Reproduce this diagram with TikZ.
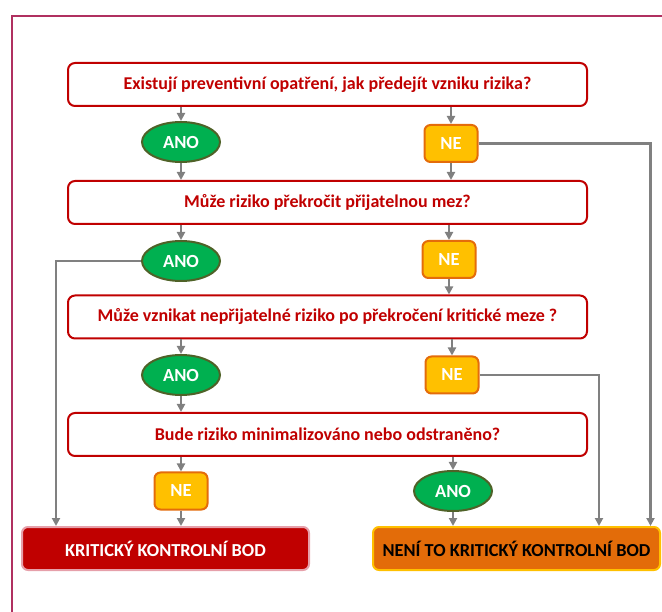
\documentclass[tikz,border=0pt]{standalone}
\usepackage{fontspec}
\setmainfont{Carlito}
\usetikzlibrary{shapes.geometric, arrows.meta, positioning, calc}

\definecolor{ramcol}{RGB}{176,48,96}
\definecolor{otazkacol}{RGB}{192,0,0}
\definecolor{anocol}{RGB}{0,176,80}
\definecolor{anookraj}{RGB}{79,98,40}
\definecolor{necol}{RGB}{255,192,0}
\definecolor{neokraj}{RGB}{228,108,10}
\definecolor{kbodcol}{RGB}{192,0,0}
\definecolor{kbodokraj}{RGB}{230,160,170}
\definecolor{nenicol}{RGB}{227,108,9}
\definecolor{sipkacol}{RGB}{128,128,128}

\begin{document}
\begin{tikzpicture}[
    x=1pt, y=-1pt,
    >={Triangle[length=8pt,width=8pt]},
    % Styl pro otazky (bile obdelniky s cervenym okrajem)
    qbox/.style={
        draw=otazkacol,
        line width=2pt,
        rounded corners=7pt,
        fill=white,
        minimum width=519pt,
        minimum height=43pt,
        text=otazkacol,
        font=\fontsize{18}{21}\selectfont\bfseries
    },
    % Styl pro odpoved ANO (zelena elipsa)
    anobox/.style={
        ellipse,
        draw=anookraj,
        line width=2pt,
        fill=anocol,
        minimum width=78pt,
        minimum height=40pt,
        inner sep=0pt,
        text=white,
        font=\fontsize{18.5}{21}\selectfont\bfseries
    },
    % Styl pro odpoved NE (zluty ctverec)
    nebox/.style={
        draw=neokraj,
        line width=2pt,
        rounded corners=6pt,
        fill=necol,
        minimum width=53pt,
        minimum height=37pt,
        inner sep=0pt,
        text=white,
        font=\fontsize{18.5}{21}\selectfont\bfseries
    },
    % Styl pro vysledne bloky
    vysledekbox/.style={
        rounded corners=6pt,
        line width=2pt,
        minimum width=287pt,
        minimum height=43pt,
        font=\fontsize{18.3}{21}\selectfont\bfseries
    },
    % Styl pro sive sipky
    sipka/.style={
        ->,
        draw=sipkacol,
        line width=2.8pt
    }
]

    \useasboundingbox (0,0) rectangle (662,612);

    % ==========================================
    % RAM
    % ==========================================
    \draw[ramcol, line width=1.4pt] (12,612) -- (12,16) -- (662,16);

    % ==========================================
    % OTAZKY
    % ==========================================
    \node[qbox] (q1) at (327.5, 84.5) {Existují preventivní opatření, jak předejít vzniku rizika?};
    \node[qbox] (q2) at (327.5, 202.5) {Může riziko překročit přijatelnou mez?};
    \node[qbox] (q3) at (327.5, 317) {Může vznikat nepřijatelné riziko po překročení kritické meze ?};
    \node[qbox] (q4) at (327.5, 434.5) {Bude riziko minimalizováno nebo odstraněno?};

    % ==========================================
    % ODPOVEDI
    % ==========================================
    \node[anobox] (ano1) at (181, 142) {ANO};
    \node[nebox] (ne1) at (451, 143.5) {NE};

    \node[anobox] (ano2) at (181, 261) {ANO};
    \node[nebox] (ne2) at (449, 259.5) {NE};

    \node[anobox] (ano3) at (181, 375) {ANO};
    \node[nebox] (ne3) at (452, 375) {NE};

    \node[nebox] (ne4) at (181, 491) {NE};
    \node[anobox] (ano4) at (453, 491) {ANO};

    % ==========================================
    % VYSLEDKY
    % ==========================================
    \node[vysledekbox, draw=kbodokraj, fill=kbodcol, text=white] (kbod) at (165.5, 548.5) {KRITICKÝ KONTROLNÍ BOD};
    \node[vysledekbox, draw=necol, fill=nenicol, text=black] (nenikbod) at (516.5, 548.5) {NENÍ TO KRITICKÝ KONTROLNÍ BOD};

    % ==========================================
    % SIPKY
    % ==========================================
    % Otazka 1
    \draw[sipka] (ano1.north |- q1.south) -- (ano1.north);
    \draw[sipka] (ne1.north |- q1.south) -- (ne1.north);
    \draw[sipka] (ano1.south) -- (ano1.south |- q2.north);
    \draw[sipka] (ne1.south) -- (ne1.south |- q2.north);
    \draw[sipka] (ne1.east) -- ++(172,0) coordinate (roh1) -- (roh1 |- nenikbod.north);

    % Otazka 2
    \draw[sipka] (ano2.north |- q2.south) -- (ano2.north);
    \draw[sipka] (ne2.north |- q2.south) -- (ne2.north);
    \draw[sipka] (ano2.west) -- (56,261) coordinate (roh2) -- (roh2 |- kbod.north);
    \draw[sipka] (ne2.south) -- (ne2.south |- q3.north);

    % Otazka 3
    \draw[sipka] (ano3.north |- q3.south) -- (ano3.north);
    \draw[sipka] (ne3.north |- q3.south) -- (ne3.north);
    \draw[sipka] (ano3.south) -- (ano3.south |- q4.north);
    \draw[sipka] (ne3.east) -- (599,375) coordinate (roh3) -- (roh3 |- nenikbod.north);

    % Otazka 4
    \draw[sipka] (ne4.north |- q4.south) -- (ne4.north);
    \draw[sipka] (ano4.north |- q4.south) -- (ano4.north);
    \draw[sipka] (ne4.south) -- (ne4.south |- kbod.north);
    \draw[sipka] (ano4.south) -- (ano4.south |- nenikbod.north);

\end{tikzpicture}
\end{document}
